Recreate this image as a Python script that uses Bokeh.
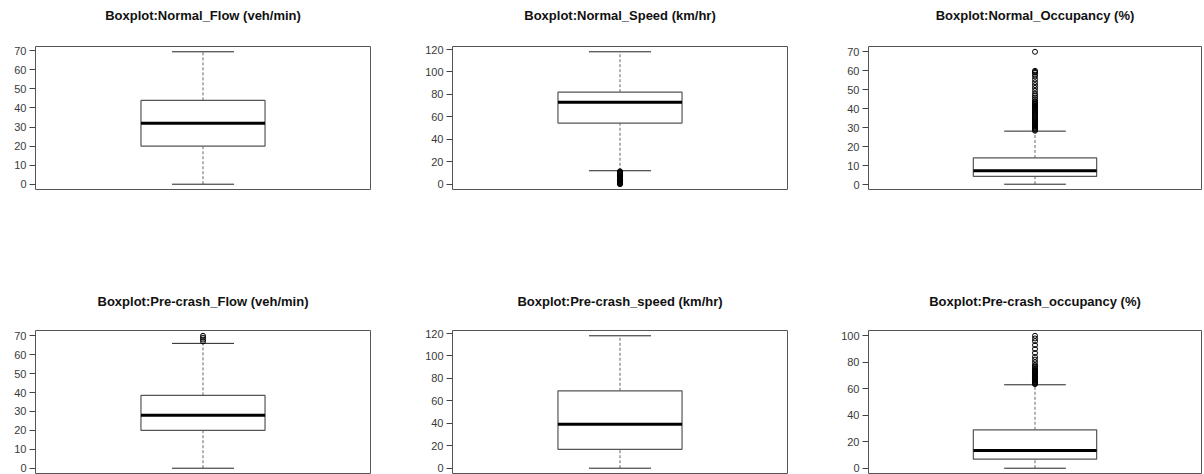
from bokeh.plotting import figure
from bokeh.layouts import column, row
from bokeh.models import FixedTicker, Range1d, Title
from bokeh.embed import file_html
from bokeh.resources import INLINE

# ---- data ----
titles = [
    "Boxplot:Normal_Flow (veh/min)",
    "Boxplot:Normal_Speed (km/hr)",
    "Boxplot:Normal_Occupancy (%)",
    "Boxplot:Pre-crash_Flow (veh/min)",
    "Boxplot:Pre-crash_speed (km/hr)",
    "Boxplot:Pre-crash_occupancy (%)",
]
whisker_low = [0, 12, 0.4, 0, 0, 0]
q1 = [20, 54.5, 4.5, 20, 16.8, 6.8]
median = [32, 73, 7.5, 28, 39.2, 13.3]
q3 = [44, 82, 14.2, 38.5, 69, 29]
whisker_high = [69.5, 118, 28.3, 66, 118, 63]

outliers_normal_flow = []
outliers_normal_speed = [0, 0.5, 1, 1.5, 2, 2.5, 3, 3.5, 4, 4.5, 5, 5.5, 6, 6.5,
                         7, 7.5, 8, 8.5, 9, 9.5, 10, 10.5, 11, 11.5]
outliers_normal_occ = [28.5, 29, 29.5, 30, 30.5, 31, 31.5, 32, 32.5, 33, 33.5, 34,
                       34.5, 35, 35.5, 36, 36.5, 37, 37.5, 38, 38.5, 39, 39.5, 40,
                       40.5, 41, 41.5, 42, 42.5, 43, 43.5, 44, 45, 46, 47, 48, 49.5,
                       51, 52.5, 54, 55.5, 57, 58, 59, 59.5, 60, 70]
outliers_pre_flow = [67, 68, 69, 70]
outliers_pre_speed = []
outliers_pre_occ = [63.5, 64, 64.5, 65, 65.5, 66, 66.5, 67, 67.5, 68, 68.5, 69,
                    69.5, 70, 70.5, 71, 71.5, 72, 72.5, 73, 73.5, 74, 75, 76, 77,
                    78, 80, 82, 84, 87, 90, 93, 96, 98, 100]
outliers = [outliers_normal_flow, outliers_normal_speed, outliers_normal_occ,
            outliers_pre_flow, outliers_pre_speed, outliers_pre_occ]

ticks_flow = [0, 10, 20, 30, 40, 50, 60, 70]
ticks_speed = [0, 20, 40, 60, 80, 100, 120]
ticks_occ_normal = [0, 10, 20, 30, 40, 50, 60, 70]
ticks_occ_pre = [0, 20, 40, 60, 80, 100]
ticks = [ticks_flow, ticks_speed, ticks_occ_normal, ticks_flow, ticks_speed, ticks_occ_pre]

# ---- layout ----
col_width = [400, 400, 404]
col_left = [35, 52, 68]
col_right = [30, 13, 3]
row_height = [237, 237]
row_top = [46, 93]
row_bottom = [48, 1]
spacer_standoff = [20, 18]

FONT = "Liberation Sans"


def make_panel(i):
    c = i % 3
    r = i // 3
    vals = [whisker_low[i], whisker_high[i]] + outliers[i]
    dmin, dmax = min(vals), max(vals)
    pad = 0.04 * (dmax - dmin)
    p = figure(width=col_width[c], height=row_height[r],
               x_range=Range1d(0.46, 1.54),
               y_range=Range1d(dmin - pad, dmax + pad),
               output_backend="svg", toolbar_location=None,
               x_axis_location=None, title=None,
               min_border_left=col_left[c], min_border_right=col_right[c],
               min_border_top=row_top[r], min_border_bottom=row_bottom[r])
    p.grid.visible = False
    p.outline_line_color = "#555555"
    p.outline_line_width = 1
    p.background_fill_color = "white"
    p.border_fill_color = "white"

    # spacer (closest to the frame) then the real title
    p.add_layout(Title(text=" ", text_font_size="2px", standoff=spacer_standoff[r]), "above")
    p.add_layout(Title(text=titles[i], text_font=FONT, text_font_style="bold",
                       text_font_size="13px", text_color="#111111",
                       align="center", standoff=0), "above")

    ax = p.yaxis[0]
    ax.ticker = FixedTicker(ticks=ticks[i])
    ax.axis_line_color = None
    ax.major_tick_in = 0
    ax.major_tick_out = 6
    ax.major_tick_line_color = "#444444"
    ax.minor_tick_line_color = None
    ax.major_label_standoff = 3
    ax.major_label_text_font = FONT
    ax.major_label_text_font_size = "11px"
    ax.major_label_text_color = "#3a3a3a"

    # whiskers (dashed)
    p.segment(x0=[1, 1], x1=[1, 1], y0=[q3[i], whisker_low[i]],
              y1=[whisker_high[i], q1[i]], line_color="#666666",
              line_dash="3 2", line_width=1)
    # caps
    p.segment(x0=[0.9, 0.9], x1=[1.1, 1.1],
              y0=[whisker_high[i], whisker_low[i]],
              y1=[whisker_high[i], whisker_low[i]],
              line_color="#222222", line_width=1)
    # box
    p.quad(left=[0.8], right=[1.2], bottom=[q1[i]], top=[q3[i]],
           fill_color="white", line_color="#555555", line_width=1.2)
    # median
    p.segment(x0=[0.8], x1=[1.2], y0=[median[i]], y1=[median[i]],
              line_color="black", line_width=3)
    # outliers
    if outliers[i]:
        p.scatter(x=[1] * len(outliers[i]), y=outliers[i], marker="circle",
                  size=5, fill_color=None, line_color="black", line_width=1)
    return p


panels = [make_panel(i) for i in range(6)]
layout = column(row(*panels[:3]), row(*panels[3:]))

open("out.html", "w").write(file_html(layout, INLINE))
